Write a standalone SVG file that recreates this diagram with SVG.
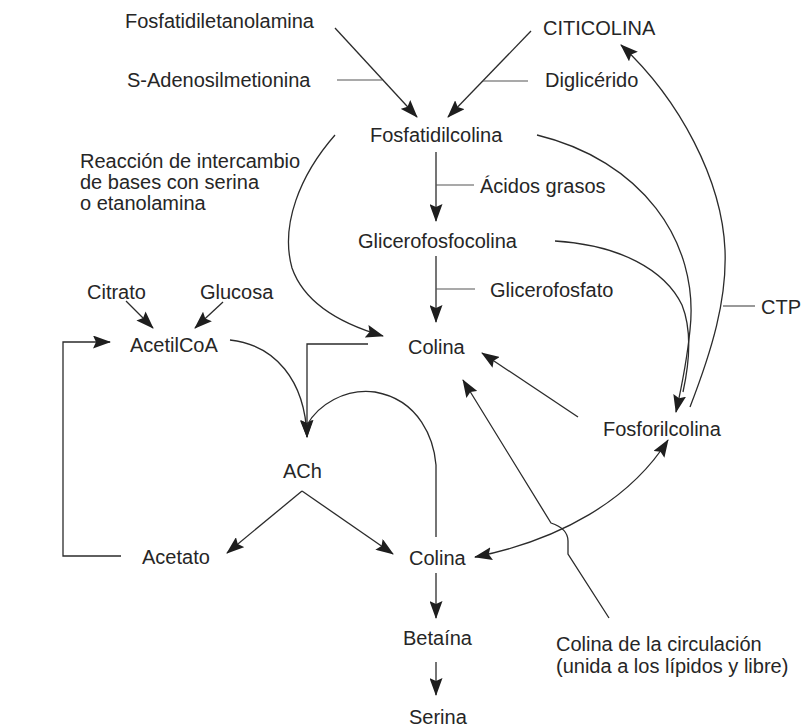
<svg xmlns="http://www.w3.org/2000/svg" width="805" height="728" viewBox="0 0 805 728">
  <style>
    text { font-family: "Liberation Sans", Arial, sans-serif; font-size: 20px; fill: #262626; }
    .edge { fill: none; stroke: #2b2b2b; stroke-width: 1.3; }
    .tick { fill: none; stroke: #555; stroke-width: 1.2; }
  </style>
  <defs>
    <marker id="arrow" viewBox="0 0 18 13" markerWidth="18" markerHeight="13" refX="17" refY="6.5" orient="auto" markerUnits="userSpaceOnUse">
      <path d="M0,0 L18,6.5 L0,13 L3,6.5 Z" fill="#1e1e1e"/>
    </marker>
    <marker id="arrowStart" viewBox="0 0 18 13" markerWidth="18" markerHeight="13" refX="1" refY="6.5" orient="auto" markerUnits="userSpaceOnUse">
      <path d="M18,0 L0,6.5 L18,13 L15,6.5 Z" fill="#1e1e1e"/>
    </marker>
  </defs>
  <rect width="805" height="728" fill="#ffffff"/>

  <!-- connectors -->
  <g id="connectors">
    <!-- into Fosfatidilcolina -->
    <path class="edge" d="M335,28 L417,117" marker-end="url(#arrow)"/>
    <path class="tick" d="M337,80 L382,80"/>
    <path class="edge" d="M531,31 L448,117" marker-end="url(#arrow)"/>
    <path class="tick" d="M483,81 L528,81"/>

    <!-- main vertical chain -->
    <path class="edge" d="M436,152 L436,221" marker-end="url(#arrow)"/>
    <path class="tick" d="M436,185 L474,185"/>
    <path class="edge" d="M436,256 L436,322" marker-end="url(#arrow)"/>
    <path class="tick" d="M436,289 L475,289"/>

    <!-- base-exchange reaction to Colina -->
    <path class="edge" d="M335,135 C300,175 280,225 292,268 C305,305 345,325 383,336" marker-end="url(#arrow)"/>

    <!-- to Fosforilcolina -->
    <path class="edge" d="M537,135 C640,160 700,240 690,330 C687,360 682,385 676,412" marker-end="url(#arrow)"/>
    <path class="edge" d="M555,241 C620,245 665,270 682,305 C692,330 690,360 683,392"/>

    <!-- Fosforilcolina to CITICOLINA, with CTP -->
    <path class="edge" d="M690,407 C712,350 727,300 725,250 C722,180 680,100 621,45" marker-end="url(#arrow)"/>
    <path class="tick" d="M723,306 L755,306"/>

    <!-- Fosforilcolina to Colina -->
    <path class="edge" d="M578,417 L482,353" marker-end="url(#arrow)"/>

    <!-- circulating choline to Colina, hopping over the curve -->
    <path class="edge" d="M609,618 L568,554 L568,541 C568,532 560,526 551,523 L463,380" marker-end="url(#arrow)"/>

    <!-- Colina (lower) <-> Fosforilcolina -->
    <path class="edge" d="M475,557 C560,540 630,500 668,440" marker-start="url(#arrowStart)" marker-end="url(#arrow)"/>

    <!-- into ACh -->
    <path class="edge" d="M230,340 C275,345 305,380 307,437" marker-end="url(#arrow)"/>
    <path class="edge" d="M368,344 L307,344 L307,437" marker-end="url(#arrow)"/>
    <path class="edge" d="M436,537 L436,465 C434,440 420,400 375,392 C345,388 318,405 307,425"/>

    <!-- ACh breakdown -->
    <path class="edge" d="M302,491 L227,553" marker-end="url(#arrow)"/>
    <path class="edge" d="M302,491 L393,554" marker-end="url(#arrow)"/>

    <!-- Acetato back to AcetilCoA -->
    <path class="edge" d="M121,556 L63,556 L63,342 L110,342" marker-end="url(#arrow)"/>

    <!-- Citrato, Glucosa -->
    <path class="edge" d="M126,301 L153,328" marker-end="url(#arrow)"/>
    <path class="edge" d="M223,302 L195,328" marker-end="url(#arrow)"/>

    <!-- Colina to Betaína to Serina -->
    <path class="edge" d="M436,573 L436,618" marker-end="url(#arrow)"/>
    <path class="edge" d="M436,662 L436,695" marker-end="url(#arrow)"/>
  </g>

  <!-- nodes -->
  <g id="fosfatidiletanolamina"><text x="125" y="28">Fosfatidiletanolamina</text></g>
  <g id="s-adenosilmetionina"><text x="127" y="87">S-Adenosilmetionina</text></g>
  <g id="citicolina"><text x="543" y="35">CITICOLINA</text></g>
  <g id="diglicerido"><text x="545" y="87">Diglicérido</text></g>
  <g id="fosfatidilcolina"><text x="370" y="142">Fosfatidilcolina</text></g>
  <g id="reaccion">
    <text x="80" y="168">Reacción de intercambio</text>
    <text x="80" y="189">de bases con serina</text>
    <text x="80" y="210">o etanolamina</text>
  </g>
  <g id="acidos-grasos"><text x="480" y="193">Ácidos grasos</text></g>
  <g id="glicerofosfocolina"><text x="358" y="248">Glicerofosfocolina</text></g>
  <g id="glicerofosfato"><text x="490" y="297">Glicerofosfato</text></g>
  <g id="citrato"><text x="87" y="299">Citrato</text></g>
  <g id="glucosa"><text x="200" y="299">Glucosa</text></g>
  <g id="acetilcoa"><text x="130" y="352">AcetilCoA</text></g>
  <g id="colina-1"><text x="408" y="354">Colina</text></g>
  <g id="ctp"><text x="761" y="314">CTP</text></g>
  <g id="fosforilcolina"><text x="603" y="436">Fosforilcolina</text></g>
  <g id="ach"><text x="283" y="478">ACh</text></g>
  <g id="acetato"><text x="142" y="564">Acetato</text></g>
  <g id="colina-2"><text x="409" y="565">Colina</text></g>
  <g id="betaina"><text x="403" y="645">Betaína</text></g>
  <g id="serina"><text x="409" y="724">Serina</text></g>
  <g id="colina-circulacion">
    <text x="556" y="651">Colina de la circulación</text>
    <text x="556" y="673">(unida a los lípidos y libre)</text>
  </g>
</svg>
